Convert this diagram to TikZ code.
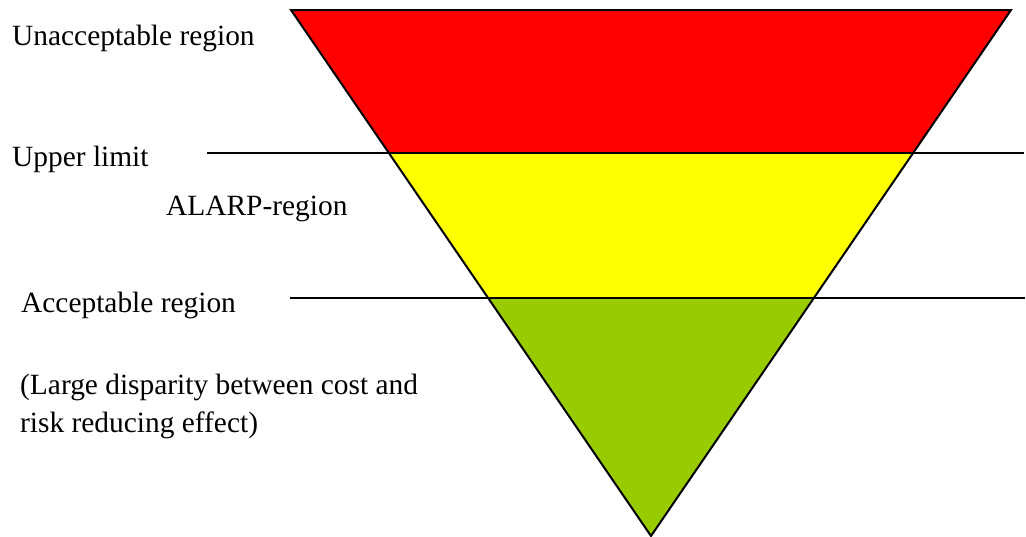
\documentclass[tikz,border=0pt]{standalone}
\usepackage{fontspec}
\setmainfont{Liberation Serif}
\usetikzlibrary{calc}
\definecolor{zonered}{HTML}{FF0000}
\definecolor{zoneyellow}{HTML}{FFFF00}
\definecolor{zonegreen}{HTML}{99CC00}
\begin{document}
\begin{tikzpicture}[x=1pt,y=-1pt,
  edge/.style={draw=black,line width=2pt,line join=miter},
  limitline/.style={draw=black,line width=1.8pt},
  label/.style={anchor=base west,inner sep=0pt,font=\fontsize{29.4}{38}\selectfont,align=left}]
  \useasboundingbox (0,0) rectangle (1026,536);
  % corners of the inverted triangle
  \coordinate (tl) at (291,10);
  \coordinate (tr) at (1011,10);
  \coordinate (apex) at (651,536);
  % where the two limit levels cut the sides
  \coordinate (ul) at ($(tl)!0.2719!(apex)$);
  \coordinate (ur) at ($(tr)!0.2719!(apex)$);
  \coordinate (al) at ($(tl)!0.5475!(apex)$);
  \coordinate (ar) at ($(tr)!0.5475!(apex)$);
  % the three bands
  \fill[zonered] (tl) -- (tr) -- (ur) -- (ul) -- cycle;
  \fill[zoneyellow] (ul) -- (ur) -- (ar) -- (al) -- cycle;
  \fill[zonegreen] (al) -- (ar) -- (apex) -- cycle;
  % limit lines
  \coordinate (u0) at (207,153);
  \coordinate (u1) at (1024,153);
  \coordinate (a0) at (290,298);
  \coordinate (a1) at (1025,298);
  \draw[limitline] (u0) -- (u1);
  \draw[limitline] (a0) -- (a1);
  % outline
  \draw[edge] (tl) -- (tr) -- (apex) -- cycle;
  % labels
  \node[label] (unacc) at (12,45) {Unacceptable region};
  \node[label] (upper) at (12,166) {Upper limit};
  \node[label] (alarp) at (166,215) {ALARP-region};
  \node[label] (acc) at (21,312) {Acceptable region};
  \node[label] (disp) at (20,432) {(Large disparity between cost and\\risk reducing effect)};
\end{tikzpicture}
\end{document}
